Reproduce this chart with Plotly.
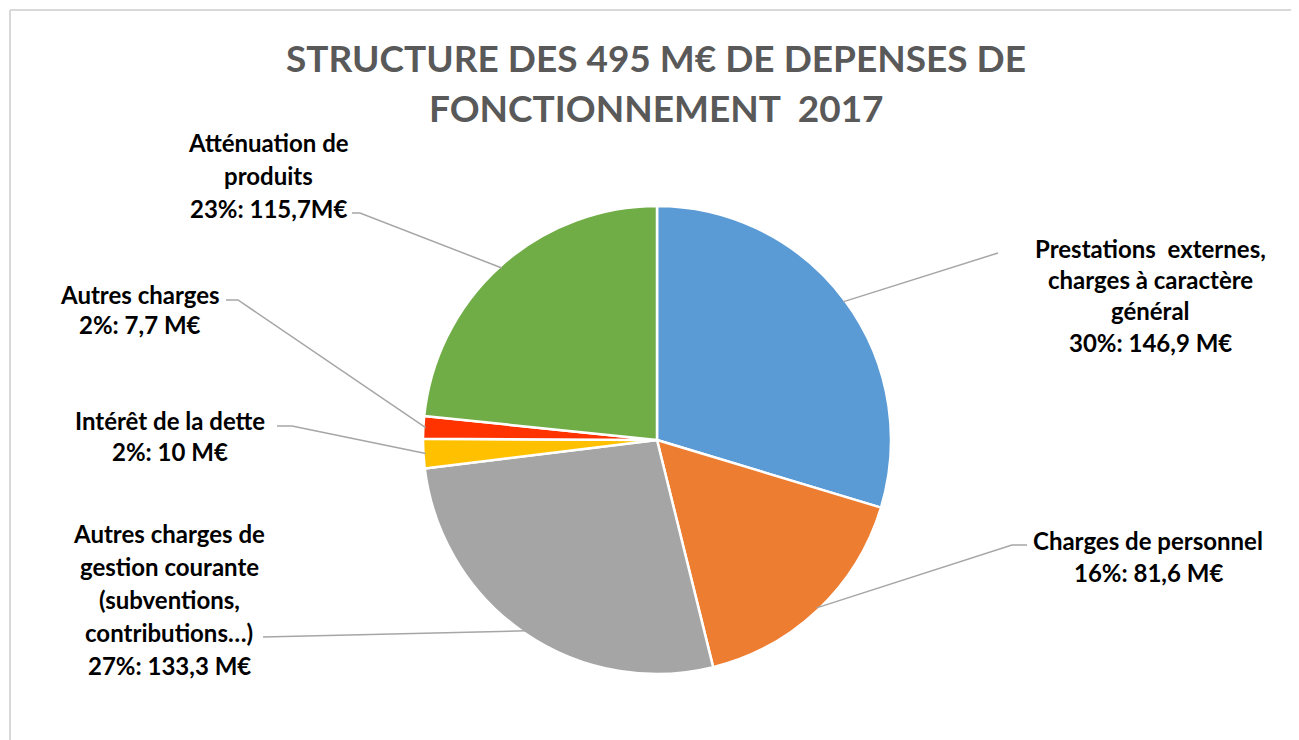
import math
import plotly.graph_objects as go

# ---------------- data ----------------
categories = [
    "Prestations externes, charges à caractère général",
    "Charges de personnel",
    "Autres charges de gestion courante (subventions, contributions…)",
    "Intérêt de la dette",
    "Autres charges",
    "Atténuation de produits",
]
label_lines = [
    ["Prestations  externes,", "charges à caractère", "général"],
    ["Charges de personnel"],
    ["Autres charges de", "gestion courante", "(subventions,", "contributions…)"],
    ["Intérêt de la dette"],
    ["Autres charges"],
    ["Atténuation de", "produits"],
]
values = [146.9, 81.6, 133.3, 10, 7.7, 115.7]
value_text = ["146,9 M€", "81,6 M€", "133,3 M€", "10 M€", "7,7 M€", "115,7M€"]
colors = ["#5B9BD5", "#ED7D31", "#A5A5A5", "#FFC000", "#FF3300", "#70AD47"]
title_lines = ["STRUCTURE DES 495 M€ DE DEPENSES DE", "FONCTIONNEMENT  2017"]

# ---------------- layout constants (pixels, page coordinates) ----------------
W, H = 1299, 740
OFF = 8  # default page body margin
CX, CY, R = 657, 440, 234

# label block: centre x, first line y, line pitch
label_pos = [
    (1150, 248, 31.5),
    (1148, 540, 32),
    (169, 533, 33),
    (170, 420, 31),
    (140, 295, 30),
    (268, 142, 33),
]
# leader line anchor points on the label side (pixels)
leader_pts = [
    [(998, 253)],
    [(1027, 545), (1012, 545)],
    [(263, 637)],
    [(277, 426), (292, 426)],
    [(226, 300), (238, 300)],
    [(352, 213), (360, 213)],
]

def px(x):
    return (x - OFF) / W

def py(y):
    return 1 - (y - OFF) / H

fig = go.Figure(go.Pie(
    labels=categories,
    values=values,
    sort=False,
    direction="clockwise",
    rotation=0,
    marker=dict(colors=colors, line=dict(color="white", width=2.5)),
    textinfo="none",
    hoverinfo="label+value+percent",
    showlegend=False,
    domain=dict(x=[px(CX - R), px(CX + R)], y=[py(CY + R), py(CY - R)]),
))

total = sum(values)
shapes = []
annotations = []

# border (top and left edges of the chart area)
shapes.append(dict(type="line", xref="paper", yref="paper",
                   x0=px(10), y0=py(10), x1=1, y1=py(10),
                   line=dict(color="#D9D9D9", width=2)))
shapes.append(dict(type="line", xref="paper", yref="paper",
                   x0=px(10), y0=py(10), x1=px(10), y1=0,
                   line=dict(color="#D9D9D9", width=2)))

cum = 0.0
for i, v in enumerate(values):
    mid = (cum + v / 2) / total * 2 * math.pi
    cum += v
    ex = CX + R * 0.99 * math.sin(mid)
    ey = CY - R * 0.99 * math.cos(mid)
    pts = leader_pts[i] + [(ex, ey)]
    path = "M " + " L ".join(f"{px(x):.5f},{py(y):.5f}" for x, y in pts)
    shapes.append(dict(type="path", xref="paper", yref="paper", path=path,
                       line=dict(color="#A6A6A6", width=1.5)))

    pct = round(v / total * 100)
    lines = label_lines[i] + [f"{pct}%: {value_text[i]}"]
    lx, ly, pitch = label_pos[i]
    for k, t in enumerate(lines):
        annotations.append(dict(
            x=px(lx), y=py(ly + k * pitch), xref="paper", yref="paper",
            text=f"<b>{t}</b>", showarrow=False,
            xanchor="center", yanchor="middle",
            font=dict(family="Lato", size=24, color="#000000"),
        ))

for k, t in enumerate(title_lines):
    annotations.append(dict(
        x=px(656), y=py(58 + k * 50), xref="paper", yref="paper",
        text=f"<b>{t}</b>", showarrow=False,
        xanchor="center", yanchor="middle",
        font=dict(family="Lato", size=37, color="#595959"),
    ))

fig.update_layout(
    width=W, height=H,
    margin=dict(l=0, r=0, t=0, b=0),
    paper_bgcolor="white",
    plot_bgcolor="white",
    shapes=shapes,
    annotations=annotations,
)

fig.write_html("out.html")
